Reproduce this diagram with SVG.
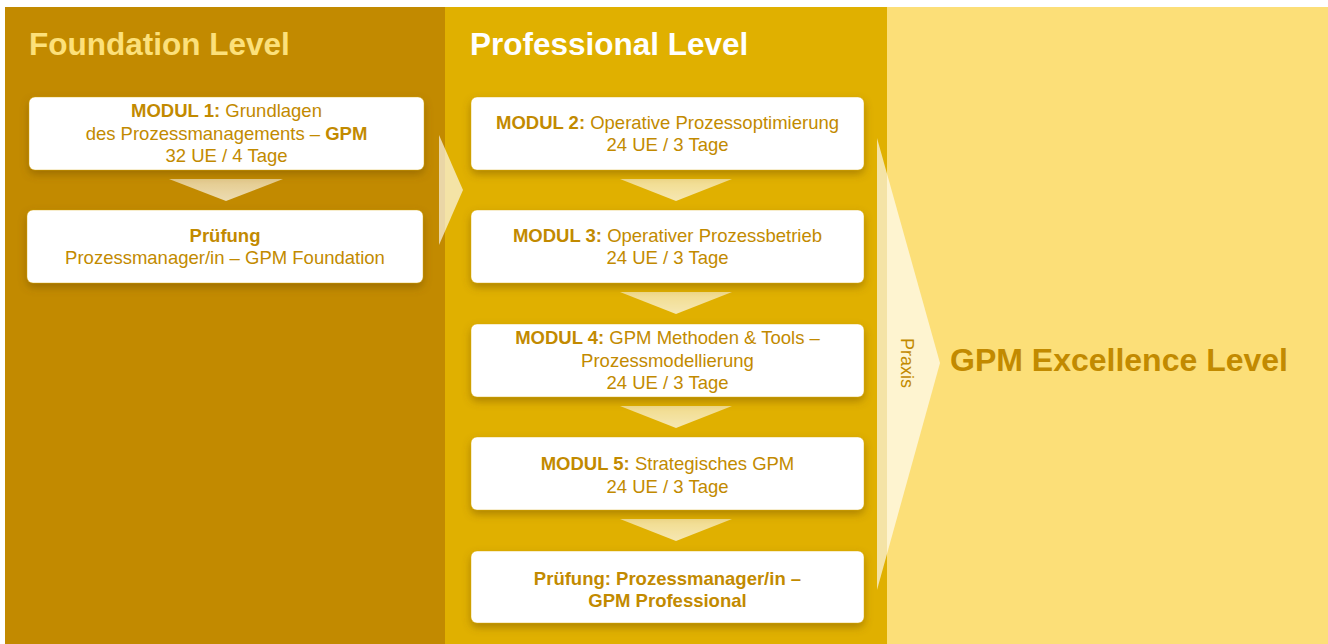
<svg xmlns="http://www.w3.org/2000/svg" width="1328" height="644" viewBox="0 0 1328 644">
<style>
.t{font-family:"Liberation Sans",Arial,Helvetica,sans-serif;fill:#C28A00;font-size:18.5px;text-anchor:middle}
.b{font-weight:bold}
.title{font-family:"Liberation Sans",Arial,Helvetica,sans-serif;font-weight:bold;font-size:31.5px}
.box{fill:#fff;stroke:#D6A400;stroke-width:0.8;stroke-opacity:0.5;filter:url(#sh)}
.arr{fill:url(#ag)}
.big{fill:#fff;fill-opacity:0.65}
</style>
<defs>
<filter id="sh" x="-10%" y="-30%" width="120%" height="170%">
<feDropShadow dx="0" dy="4" stdDeviation="4" flood-color="#6e4c00" flood-opacity="0.45"/>
</filter>
<linearGradient id="ag" x1="0" y1="0" x2="0" y2="1">
<stop offset="0" stop-color="#fff" stop-opacity="0.55"/>
<stop offset="1" stop-color="#fff" stop-opacity="0.7"/>
</linearGradient>
</defs>
<rect x="0" y="0" width="1328" height="644" fill="#fff"/>
<rect x="5" y="7" width="441" height="637" fill="#C28A00"/>
<rect x="445" y="7" width="442" height="637" fill="#E0B000"/>
<rect x="887" y="7" width="441" height="637" fill="#FCDF78"/>
<text class="title" x="29" y="55" fill="#FCE07A">Foundation Level</text>
<text class="title" x="470" y="55" fill="#fff">Professional Level</text>
<g id="connectors">
<polygon class="big" points="439,135 463,190 439,245"/>
<polygon class="big" points="877,138 940,363 877,590"/>
<polygon class="arr" points="169,179 283,179 226,201"/>
<polygon class="arr" points="620,179 732,179 676,201"/>
<polygon class="arr" points="620,292 732,292 676,314"/>
<polygon class="arr" points="620,406 732,406 676,428"/>
<polygon class="arr" points="620,519 732,519 676,541"/>
</g>
<g id="modul1">
<rect class="box" x="29" y="97" width="395" height="73" rx="6"/>
<text class="t" x="226.5" y="117"><tspan class="b">MODUL 1:</tspan> Grundlagen</text>
<text class="t" x="226.5" y="140">des Prozessmanagements – <tspan class="b">GPM</tspan></text>
<text class="t" x="226.5" y="162">32 UE / 4 Tage</text>
</g>
<g id="pruefung-foundation">
<rect class="box" x="27" y="210" width="396" height="73" rx="6"/>
<text class="t b" x="225" y="242">Prüfung</text>
<text class="t" x="225" y="264">Prozessmanager/in – GPM Foundation</text>
</g>
<g id="modul2">
<rect class="box" x="471" y="97" width="393" height="73" rx="6"/>
<text class="t" x="667.5" y="129"><tspan class="b">MODUL 2:</tspan> Operative Prozessoptimierung</text>
<text class="t" x="667.5" y="151">24 UE / 3 Tage</text>
</g>
<g id="modul3">
<rect class="box" x="471" y="210" width="393" height="73" rx="6"/>
<text class="t" x="667.5" y="242"><tspan class="b">MODUL 3:</tspan> Operativer Prozessbetrieb</text>
<text class="t" x="667.5" y="264">24 UE / 3 Tage</text>
</g>
<g id="modul4">
<rect class="box" x="471" y="324" width="393" height="73" rx="6"/>
<text class="t" x="667.5" y="344"><tspan class="b">MODUL 4:</tspan> GPM Methoden &amp; Tools –</text>
<text class="t" x="667.5" y="367">Prozessmodellierung</text>
<text class="t" x="667.5" y="389">24 UE / 3 Tage</text>
</g>
<g id="modul5">
<rect class="box" x="471" y="437" width="393" height="73" rx="6"/>
<text class="t" x="667.5" y="470"><tspan class="b">MODUL 5:</tspan> Strategisches GPM</text>
<text class="t" x="667.5" y="493">24 UE / 3 Tage</text>
</g>
<g id="pruefung-professional">
<rect class="box" x="471" y="551" width="393" height="72" rx="6"/>
<text class="t b" x="667.5" y="585">Prüfung: Prozessmanager/in –</text>
<text class="t b" x="667.5" y="607">GPM Professional</text>
</g>
<g id="praxis">
<text class="t" x="907" y="363" transform="rotate(90 907 363)" dy="6" style="font-size:18px">Praxis</text>
</g>
<g id="excellence">
<text class="title" x="950" y="371" fill="#C28A00" style="font-size:32px">GPM Excellence Level</text>
</g>
</svg>
